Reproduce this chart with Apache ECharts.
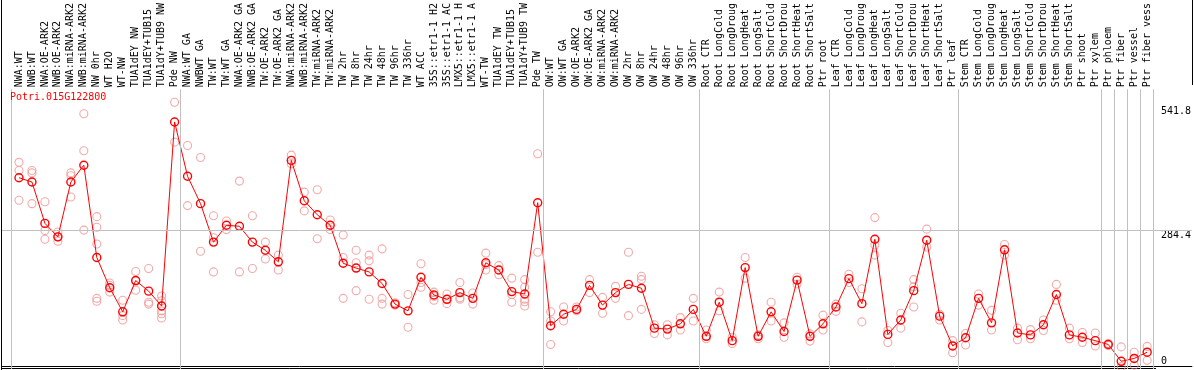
<!DOCTYPE html>
<html>
<head>
<meta charset="utf-8">
<script src="https://cdn.jsdelivr.net/npm/echarts@6/dist/echarts.min.js"></script>
<style>
html,body{margin:0;padding:0;background:#fff;}
#chart{width:1194px;height:370px;}
</style>
</head>
<body>
<div id="chart"></div>
<script>
const geneId = 'Potri.015G122800';

const categories = [
  'NWA:WT','NWB:WT','NWA:OE-ARK2','NWB:OE-ARK2','NWA:miRNA-ARK2','NWB:miRNA-ARK2','NW 0hr','WT H2O','WT-NW','TUA1dEY NW','TUA1dEY+TUB15','TUA1dY+TUB9 NW','Pde NW',
  'NWA:WT GA','NWBWT GA','TW:WT','TW:WT GA','NWA:OE-ARK2 GA','NWB:OE-ARK2 GA','TW:OE-ARK2','TW:OE-ARK2 GA','NWA:miRNA-ARK2','NWB:miRNA-ARK2','TW:miRNA-ARK2','TW:miRNA-ARK2',
  'TW 2hr','TW 8hr','TW 24hr','TW 48hr','TW 96hr','TW 336hr','WT ACC','35S::etr1-1 H2','35S::etr1-1 AC','LMX5::etr1-1 H','LMX5::etr1-1 A','WT-TW','TUA1dEY TW','TUA1dEY+TUB15','TUA1dY+TUB9 TW','Pde TW',
  'OW:WT','OW:WT GA','OW:OE-ARK2','OW:OE-ARK2 GA','OW:miRNA-ARK2','OW:miRNA-ARK2','OW 2hr','OW 8hr','OW 24hr','OW 48hr','OW 96hr','OW 336hr',
  'Root CTR','Root LongCold','Root LongDroug','Root LongHeat','Root LongSalt','Root ShortCold','Root ShortDrou','Root ShortHeat','Root ShortSalt','Ptr root',
  'Leaf CTR','Leaf LongCold','Leaf LongDroug','Leaf LongHeat','Leaf LongSalt','Leaf ShortCold','Leaf ShortDrou','Leaf ShortHeat','Leaf ShortSalt','Ptr leaf',
  'Stem CTR','Stem LongCold','Stem LongDroug','Stem LongHeat','Stem LongSalt','Stem ShortCold','Stem ShortDrou','Stem ShortHeat','Stem ShortSalt','Ptr shoot','Ptr xylem',
  'Ptr phloem','Ptr fiber','Ptr vessel','Ptr fiber vess'
];

const means = [
  393,384,298,270,384,419,227,164,114,179,157,126,509,
  396,339,259,294,292,259,242,218,429,345,316,294,215,205,197,173,130,116,186,149,140,154,142,216,201,156,151,341,
  85,109,119,169,128,154,171,163,80,78,89,119,
  63,134,54,206,63,114,73,180,63,89,
  124,183,131,265,67,97,158,263,105,43,
  60,142,91,243,70,66,87,150,66,61,54,
  46,11,17,30
];

const replicates = [
  [425,408,346],[408,403,339],[343,283,265],[280,270,261],[403,397,353],[526,449,284],[312,290,255,142,136],[174,169,155],[138,106,97],[198,178,159],[204,134,130],[147,137,126,116,110,101],[550,467],
  [460,335],[435,240],[314,268,197],[303,285],[386,197],[314,204],[259,224],[232,201],[440,422],[363,324],[368,266],[305,285],
  [274,227,142],[242,216,158],[232,220,140],[245,142,130],[133,128],[150,82],[214,175,165],[155,146,138],[151,140,131],[175,143,140],[153,130],[236,212,201],[210,191],[184,150,134],[181,165,140,135,126],[443,238],
  [114,95,46],[124,95],[124,116],[181,154],[144,111],[167,142],[238,106],[188,181,119],[87,69],[87,66],[102,76],[142,95],
  [76,58],[155,116],[61,48],[227,184],[66,58],[134,95],[91,61],[186,172],[68,53],[107,76],
  [130,115],[192,175],[162,93],[310,253,232],[75,50],[111,80],[181,166,124],[286,249],[109,97],[54,29],
  [69,45],[151,128],[117,76],[254,232],[80,56],[77,58],[97,75],[171,138],[80,58],[71,50],[70,43],
  [48,44],[41,0],[30,3],[42,13]
];

const groupBreaks = [-0.6, 12.4, 40.45, 52.45, 62.45, 72.45, 83.45, 84.5, 85.5, 86.5, 87.5];
const yTickLabels = [0, 284.4, 541.8];
const yGridValues = [284.4];

const FONT = 'DejaVu Sans Mono';

const meanData = means.map((v, i) => [i, v]);
const repData = [];
replicates.forEach((arr, i) => arr.forEach(v => repData.push([i, v])));
const catIdx = categories.map((c, i) => i);

const chart = echarts.init(document.getElementById('chart'), null, {renderer: 'canvas'});
chart.setOption({
  animation: false,
  backgroundColor: '#ffffff',
  title: {
    text: geneId, left: 5, top: 87,
    textStyle: {color: '#ff0000', fontFamily: FONT, fontSize: 10, fontWeight: 'normal'}
  },
  grid: {left: 2, right: 0, top: 85, bottom: 1, containLabel: false},
  xAxis: {
    type: 'value', position: 'top', min: -1.31, max: 90.45,
    axisLine: {show: true, lineStyle: {color: '#000', width: 1}},
    axisTick: {show: true, inside: false, length: 85, customValues: groupBreaks, lineStyle: {color: '#c0c0c0', width: 1}},
    axisLabel: {
      show: true, customValues: catIdx, rotate: 90, margin: 2,
      fontFamily: FONT, fontSize: 10, color: '#000',
      formatter: v => categories[Math.round(v)] || ''
    },
    splitLine: {show: false}
  },
  yAxis: {
    type: 'value', position: 'right', offset: -37.5, min: -5, max: 577,
    axisLine: {show: false}, axisTick: {show: false}, splitLine: {show: false},
    axisLabel: {
      show: true, customValues: yTickLabels, margin: 6.5, align: 'left',
      verticalAlign: 'top', verticalAlignMinLabel: 'bottom',
      fontFamily: FONT, fontSize: 10, color: '#000',
      formatter: v => String(v)
    }
  },
  graphic: [
    {type: 'line', shape: {x1: 1.5, y1: 0, x2: 1.5, y2: 370}, style: {stroke: '#000', lineWidth: 1}, silent: true},
    {type: 'line', shape: {x1: 1192.5, y1: 0, x2: 1192.5, y2: 85}, style: {stroke: '#000', lineWidth: 1}, silent: true},
    {type: 'line', shape: {x1: 1, y1: 368.5, x2: 1156, y2: 368.5}, style: {stroke: '#000', lineWidth: 1}, silent: true}
  ],
  series: [
    {
      type: 'line', data: [], silent: true,
      markLine: {
        silent: true, symbol: ['none', 'none'], label: {show: false},
        lineStyle: {color: '#c0c0c0', width: 1, type: 'solid'},
        data: groupBreaks.map(b => ({xAxis: b})).concat(yGridValues.map(v => ({yAxis: v})))
      },
      z: 1
    },
    {
      type: 'scatter', data: repData, symbol: 'circle', symbolSize: 8,
      itemStyle: {color: 'rgba(0,0,0,0)', borderColor: '#ef9595', borderWidth: 1.1},
      silent: true, z: 2
    },
    {
      type: 'line', data: meanData, symbol: 'circle', symbolSize: 8, showSymbol: true,
      lineStyle: {color: '#ff0000', width: 1},
      itemStyle: {color: 'rgba(0,0,0,0)', borderColor: '#ff0000', borderWidth: 1.4},
      silent: true, z: 3
    }
  ]
});
</script>
</body>
</html>
